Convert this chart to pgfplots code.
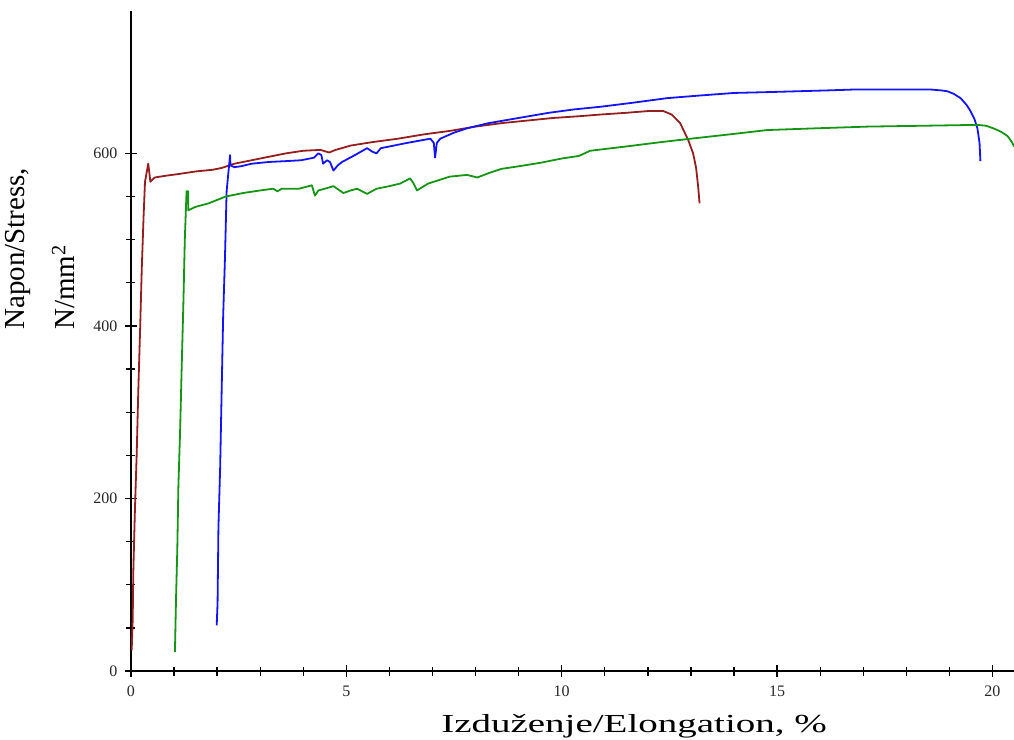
\documentclass[border=0pt]{standalone}
\usepackage{pgfplots}
\pgfplotsset{compat=1.18}
\usepackage{fontspec}
\setmainfont{Liberation Serif}
\definecolor{cred}{RGB}{150,30,30}
\definecolor{cblue}{RGB}{20,20,250}
\definecolor{cgreen}{RGB}{20,150,20}
\begin{document}
\begin{tikzpicture}
\begin{axis}[
  scale only axis,
  width=883pt, height=660pt,
  xmin=0, xmax=20.5, ymin=0, ymax=765,
  axis x line=bottom, axis y line=left,
  axis line style={-, line width=1.3pt, black},
  xtick={0,5,10,15,20}, minor x tick num=4,
  ytick={0,200,400,600}, minor y tick num=3,
  tick align=center,
  major tick length=12pt, minor tick length=9pt,
  every tick/.style={black, line width=1.3pt},
  minor tick style={black, line width=1.3pt},
  /pgf/number format/assume math mode=true,
  tick label style={font=\fontsize{16}{19}\selectfont, text=black!85},
  xticklabel style={yshift=-5pt},
  yticklabel style={xshift=-4pt},
  xlabel={\scalebox{1.5}[1]{Izduženje/Elongation, \%}},
  xlabel style={font=\fontsize{26}{30}\selectfont, at={(axis description cs:0.5697,-0.0939)}, anchor=base},
  ylabel={Napon/Stress,\\N/mm\textsuperscript{2}},
  ylabel style={font=\fontsize{29}{50}\selectfont, align=left, inner sep=0pt, rotate=0, at={(axis description cs:-0.1427,0.5167)}, anchor=north west},
  every axis plot/.append style={line width=1.8pt, line join=round, no markers},
]
\addplot[cred] coordinates {
(0.016,24)(0.04,60)(0.053,114)(0.093,190)(0.132,251)(0.17,326)(0.21,393)(0.25,466)(0.29,524)(0.325,567)(0.40,588)
(0.42,580)(0.45,567)(0.55,572)(0.8,574)(1.1,576)(1.5,579)(1.9,581)(2.1,583)(2.4,588)(2.8,592)(3.2,596)
(3.6,600)(4.0,603)(4.4,604)(4.6,601)(4.75,604)(5.1,609)(5.6,613)(6.2,617)(6.8,622)(7.4,626)(8.0,631)
(8.6,635)(9.2,638)(9.8,641)(10.4,643)(10.9,645)(11.5,647)(12.0,649)(12.36,649)(12.55,645)(12.75,635)
(12.94,615)(13.05,600)(13.12,583)(13.17,560)(13.2,542)
};
\addplot[cblue] coordinates {
(1.99,53)(2.01,79)(2.03,167)(2.07,236)(2.11,338)(2.14,412)(2.18,476)(2.22,556)(2.30,598)
(2.31,586)(2.4,584)(2.55,585)(2.8,588)(3.2,590)(3.6,591)(3.95,592)(4.25,595)(4.35,600)(4.42,598)
(4.46,588)(4.55,592)(4.62,590)(4.7,580)(4.8,586)(4.9,590)(5.2,598)(5.48,606)(5.6,602)(5.7,600)
(5.8,606)(6.1,609)(6.4,612)(6.95,617)(7.03,612)(7.06,595)(7.1,612)(7.18,617)(7.5,624)(7.8,629)
(8.3,635)(9.0,641)(9.7,647)(10.3,651)(10.9,654)(11.7,659)(12.45,664)(13.2,667)(14.0,670)(14.8,671)
(15.5,672)(16.2,673)(16.8,674)(17.7,674)(18.56,674)(18.8,673)(18.95,672)(19.1,669)(19.26,664)
(19.4,656)(19.49,649)(19.58,640)(19.65,629)(19.7,612)(19.72,591)
};
\addplot[cgreen] coordinates {
(1.02,22)(1.045,83)(1.075,141)(1.10,214)(1.14,278)(1.18,358)(1.215,424)(1.25,501)(1.29,556)(1.33,556)
(1.33,534)(1.5,538)(1.8,542)(2.2,550)(2.6,554)(3.0,557)(3.3,559)(3.4,556)(3.5,559)(3.9,559)(4.2,563)
(4.27,551)(4.35,557)(4.5,559)(4.7,562)(4.93,554)(5.1,557)(5.25,559)(5.48,553)(5.7,559)(6.0,562)
(6.25,565)(6.48,571)(6.55,566)(6.64,557)(6.8,562)(6.9,565)(7.4,573)(7.8,575)(8.04,572)(8.3,577)
(8.6,582)(9.0,585)(9.5,589)(10.0,594)(10.4,597)(10.66,603)(11.5,608)(12.3,613)(13.0,617)(13.9,622)
(14.77,627)(15.9,629)(17.1,631)(18.4,632)(19.65,633)(19.85,632)(20.02,629)(20.2,625)(20.35,620)
(20.45,613)(20.5,608)
};
\end{axis}
\pgfresetboundingbox
\path ([shift={(-131pt,-68pt)}]current axis.south west) rectangle ([shift={(0pt,11pt)}]current axis.north east);
\end{tikzpicture}
\end{document}
